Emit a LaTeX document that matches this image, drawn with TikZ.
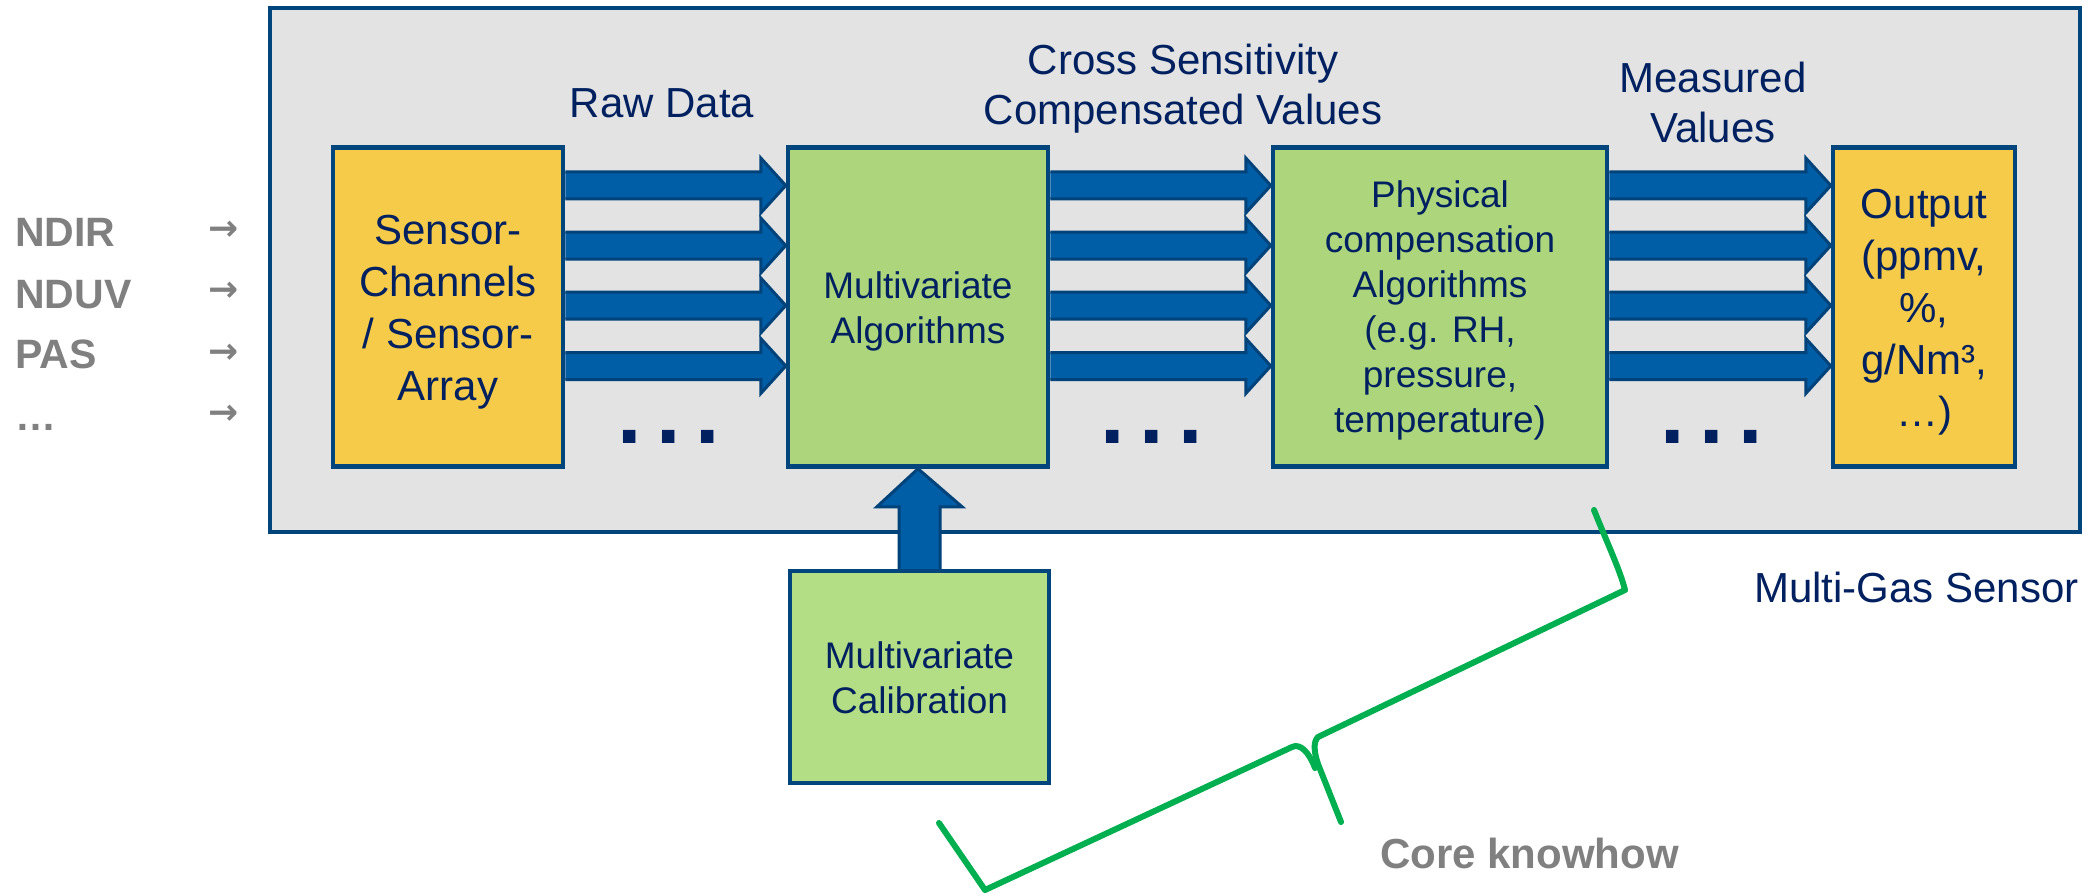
\documentclass[tikz,border=0pt]{standalone}
\usepackage{fontspec}
\setmainfont{Liberation Sans}
\newfontfamily\arrowfont{DejaVu Sans}
\usetikzlibrary{calc}

\definecolor{navy}{RGB}{0,32,96}
\definecolor{edgeblue}{RGB}{0,70,125}
\definecolor{flowblue}{RGB}{0,94,166}
\definecolor{flowedge}{RGB}{0,66,122}
\definecolor{panelgray}{RGB}{227,227,227}
\definecolor{sunny}{RGB}{245,203,73}
\definecolor{leaf}{RGB}{173,213,124}
\definecolor{leaflight}{RGB}{180,222,134}
\definecolor{bracegreen}{RGB}{0,176,80}
\definecolor{sourcegray}{RGB}{128,128,128}

% broad horizontal data-flow arrow between two boxes, centred at height #3
\newcommand\hflow[3]{%
  \fill[flowblue] let \p1=(#1.east), \p2=(#2.west), \p3=(0,#3) in
    (\x1,\y3+13.5pt) -- (\x2-25pt,\y3+13.5pt) -- (\x2-25pt,\y3+27.5pt) -- (\x2,\y3)
    -- (\x2-25pt,\y3-27.5pt) -- (\x2-25pt,\y3-13.5pt) -- (\x1,\y3-13.5pt) -- cycle;
  \draw[flowline] let \p1=(#1.east), \p2=(#2.west), \p3=(0,#3) in
    (\x1,\y3+13.5pt) -- (\x2-25pt,\y3+13.5pt) -- (\x2-25pt,\y3+27.5pt) -- (\x2,\y3)
    -- (\x2-25pt,\y3-27.5pt) -- (\x2-25pt,\y3-13.5pt) -- (\x1,\y3-13.5pt);}

% broad upward arrow from the top of #1 to the bottom of #2
\newcommand\vflow[2]{%
  \fill[flowblue] let \p1=(#1.north), \p2=(#2.south) in
    (\x1-20.5pt,\y1) -- (\x1-20.5pt,\y2-38pt) -- (\x1-42.5pt,\y2-38pt) -- (\x2,\y2)
    -- (\x1+42.5pt,\y2-38pt) -- (\x1+20.5pt,\y2-38pt) -- (\x1+20.5pt,\y1) -- cycle;
  \draw[flowline] let \p1=(#1.north), \p2=(#2.south) in
    (\x1-20.5pt,\y1) -- (\x1-20.5pt,\y2-38pt) -- (\x1-42.5pt,\y2-38pt) -- (\x2,\y2)
    -- (\x1+42.5pt,\y2-38pt) -- (\x1+20.5pt,\y2-38pt) -- (\x1+20.5pt,\y1);}

\begin{document}
\begin{tikzpicture}[x=1pt,y=-1pt,
  frame/.style={draw=edgeblue, line width=4.5pt, fill=panelgray, inner sep=0pt},
  block/.style={draw=edgeblue, line width=4.5pt, inner sep=0pt, align=center,
    text=navy, font=\fontsize{42}{52}\selectfont, text depth=0pt},
  yellowbox/.style={block, fill=sunny},
  greenbox/.style={block, fill=leaf, font=\fontsize{37}{45}\selectfont},
  flowline/.style={draw=flowedge, line width=3pt, line join=miter},
  flowlabel/.style={text=navy, font=\fontsize{42}{50}\selectfont, align=center, inner sep=0pt},
  source/.style={text=sourcegray, font=\fontsize{41}{41}\selectfont\bfseries, inner sep=0pt, anchor=base west},
  sourcearrow/.style={text=sourcegray, font=\arrowfont\fontsize{36}{36}\selectfont\bfseries, inner sep=0pt},
  ellipsisdots/.style={text=navy, font=\fontsize{88}{88}\selectfont\bfseries, inner sep=0pt, anchor=base},
  knowhowbrace/.style={draw=bracegreen, line width=6pt, line cap=round, line join=round}]

\useasboundingbox (0,0) rectangle (2093,896);
\fill[white] (0,0) rectangle (2093,896);

% sensor housing
\node[frame, minimum width=1810, minimum height=524] (housing) at (1175,270) {};

% processing chain (text height places the last baseline inside each box)
\node[yellowbox, minimum width=230, minimum height=319, text height=186pt] (sensor) at (448,307)
  {Sensor-\\Channels\\/ Sensor-\\Array};
\node[greenbox, minimum width=260, minimum height=319, text height=72pt] (multi) at (918,307)
  {Multivariate\\Algorithms};
\node[greenbox, minimum width=334, minimum height=319, text height=250pt] (phys) at (1440,307)
  {Physical\\compensation\\Algorithms\\(e.g. RH,\\pressure,\\temperature)};
\node[yellowbox, minimum width=182, minimum height=319, text height=238pt] (out) at (1924,307)
  {Output\\(ppmv,\\\%,\\g/Nm³,\\…)};
\node[greenbox, fill=leaflight, minimum width=259, minimum height=212, text height=72pt] (calib) at (919.5,677)
  {Multivariate\\Calibration};

% data-flow arrows
\foreach \yy in {185.5,245.5,305.5,366} {
  \hflow{sensor}{multi}{\yy}
  \hflow{multi}{phys}{\yy}
  \hflow{phys}{out}{\yy}
}
\vflow{calib}{multi}

% further channels
\node[ellipsisdots] (dotsA) at (669,443) {.\hspace{14.5pt}.\hspace{14.5pt}.};
\node[ellipsisdots] (dotsB) at (1152,443) {.\hspace{14.5pt}.\hspace{14.5pt}.};
\node[ellipsisdots] (dotsC) at (1712,443) {.\hspace{14.5pt}.\hspace{14.5pt}.};

% stage labels (anchored at the baseline of their last line)
\node[flowlabel, anchor=base] (raw) at (662,118) {Raw Data};
\node[flowlabel, anchor=base] (cross) at (1183,125) {Cross Sensitivity\\Compensated Values};
\node[flowlabel, anchor=base] (meas) at (1713,143) {Measured\\Values};
\node[flowlabel, anchor=base west] (mgs) at (1754,602) {Multi-Gas Sensor};

% measurement principles
\node[source] (ndir) at (15,247) {NDIR};
\node[source] (nduv) at (15,308) {NDUV};
\node[source] (pas) at (15,368) {PAS};
\node[source] (more) at (15,430) {…};
\node[sourcearrow] (arrA) at (224,231) {→};
\node[sourcearrow] (arrB) at (224,292) {→};
\node[sourcearrow] (arrC) at (224,354) {→};
\node[sourcearrow] (arrD) at (224,415) {→};

% core knowhow brace
\coordinate (braceTop) at (1594,510);
\coordinate (braceCorner) at (1625,590);
\coordinate (braceUpper) at (1318,737);
\coordinate (braceTip) at (1341,822);
\coordinate (braceLower) at (1292,747);
\coordinate (braceBottom) at (985,890);
\coordinate (braceEnd) at (939,823);
\draw[knowhowbrace] (braceTop) .. controls (1608,545) and (1620,570) .. (braceCorner)
  -- (braceUpper) .. controls (1313,742) and (1314,752) .. (1318,764) -- (braceTip);
\draw[knowhowbrace] (braceEnd) -- (braceBottom) -- (braceLower)
  .. controls (1300,743) and (1309,752) .. (1315,768);
\node[text=sourcegray, font=\fontsize{42}{42}\selectfont\bfseries, inner sep=0pt, anchor=base west]
  (core) at (1380,868) {Core knowhow};

\end{tikzpicture}
\end{document}
